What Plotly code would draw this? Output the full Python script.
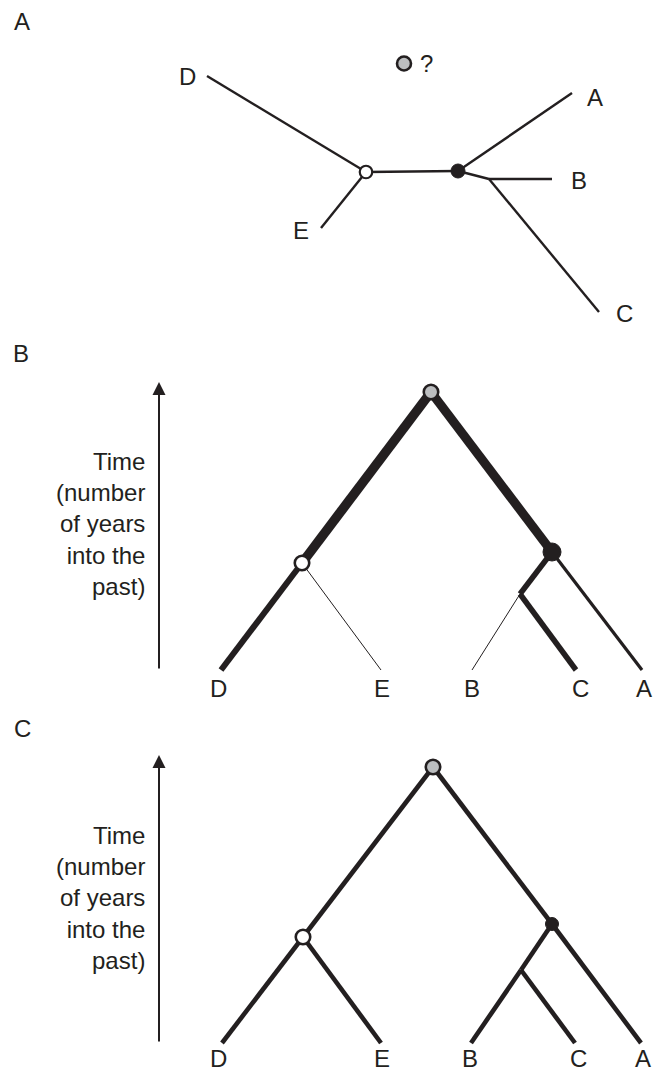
import plotly.graph_objects as go

INK = "#231f20"
GREY = "#bcbec0"
FONT = "Liberation Sans, Arial, Helvetica, sans-serif"

# ---------------- Panel A: unrooted tree ----------------
a_names = ["D", "E", "A", "B", "C", "n_open", "n_black", "n_split"]
a_x = [207, 321, 572, 552, 599, 366, 458, 489]
a_y = [76, 228, 93, 179, 312, 172, 171, 179]
a_edges = [("D", "n_open"), ("E", "n_open"), ("n_open", "n_black"),
           ("n_black", "A"), ("n_black", "n_split"), ("n_split", "B"), ("n_split", "C")]
a_label_names = ["D", "E", "A", "B", "C"]
a_label_x = [187, 301, 595, 579, 624]
a_label_y = [76, 230, 97, 180, 313]
a_unknown_x, a_unknown_y = 404, 63.5   # grey "?" root position

# ---------------- Panel B: rooted tree with branch weights ----------------
b_names = ["root", "n_open", "n_black", "n_split", "D", "E", "B", "C", "A"]
b_x = [431, 302, 552, 520, 221, 381, 472, 576, 642]
b_y = [392, 563, 552, 594, 670, 670, 670, 670, 670]
b_edges = [("root", "n_open"), ("root", "n_black"), ("n_open", "D"), ("n_open", "E"),
           ("n_black", "n_split"), ("n_split", "C"), ("n_split", "B"), ("n_black", "A")]
b_widths = [9.5, 9, 6, 1, 5.5, 5.5, 1, 3.2]

# ---------------- Panel C: rooted tree ----------------
c_names = ["root", "n_open", "n_black", "n_split", "D", "E", "B", "C", "A"]
c_x = [433, 303, 552, 521, 222, 381, 471, 575, 641]
c_y = [767, 937, 924, 970, 1043, 1043, 1043, 1043, 1043]
c_edges = [("root", "n_open"), ("root", "n_black"), ("n_open", "D"), ("n_open", "E"),
           ("n_black", "n_split"), ("n_split", "C"), ("n_split", "B"), ("n_black", "A")]
c_widths = [4.6] * 8

tip_names = ["D", "E", "B", "C", "A"]
b_label_x = [218, 382, 472, 580, 644]
b_label_y = 688
c_label_x = [218, 382, 470, 578, 643]
c_label_y = 1058

time_text = "Time<br>(number<br>of years<br>into the<br>past)"

fig = go.Figure()


def add_edges(names, xs, ys, edges, widths):
    pos = {n: (x, y) for n, x, y in zip(names, xs, ys)}
    for (a, b), w in zip(edges, widths):
        fig.add_trace(go.Scatter(
            x=[pos[a][0], pos[b][0]], y=[pos[a][1], pos[b][1]],
            mode="lines", line=dict(color=INK, width=w),
            hoverinfo="skip", showlegend=False))
    return pos


def add_node(p, fill, size, lw):
    fig.add_trace(go.Scatter(
        x=[p[0]], y=[p[1]], mode="markers",
        marker=dict(size=size, color=fill, line=dict(color=INK, width=lw)),
        hoverinfo="skip", showlegend=False))


# Panel A
pa = add_edges(a_names, a_x, a_y, a_edges, [2.4] * len(a_edges))
add_node(pa["n_open"], "white", 12.5, 2.2)
add_node(pa["n_black"], INK, 14, 1)
add_node((a_unknown_x, a_unknown_y), GREY, 14, 2.6)

# Panel B
pb = add_edges(b_names, b_x, b_y, b_edges, b_widths)
add_node(pb["root"], GREY, 14.5, 2.6)
add_node(pb["n_open"], "white", 14.5, 2.6)
add_node(pb["n_black"], INK, 18, 1)

# Panel C
pc = add_edges(c_names, c_x, c_y, c_edges, c_widths)
add_node(pc["root"], GREY, 14.5, 2.6)
add_node(pc["n_open"], "white", 14.5, 2.6)
add_node(pc["n_black"], INK, 13, 1)

annotations = []


def label(x, y, t, **kw):
    d = dict(x=x, y=y, xref="x", yref="y", text=t, showarrow=False,
             font=dict(family=FONT, size=24, color=INK),
             xanchor="center", yanchor="middle", borderpad=0)
    d.update(kw)
    annotations.append(d)


# panel letters
label(22, 21, "A")
label(21, 353, "B")
label(22, 728, "C")

# panel A labels
for t, x, y in zip(a_label_names, a_label_x, a_label_y):
    label(x, y, t)
label(426, 63, "?")

# panel B / C tip labels
for t, x in zip(tip_names, b_label_x):
    label(x, b_label_y, t)
for t, x in zip(tip_names, c_label_x):
    label(x, c_label_y, t)

# time axis text
label(146, 524, time_text, xanchor="right", align="right")
label(146, 898, time_text, xanchor="right", align="right")

# time arrows
for top, bottom in [(382, 670), (755, 1043)]:
    annotations.append(dict(
        x=159, y=top, ax=159, ay=bottom, xref="x", yref="y", axref="x", ayref="y",
        text="", showarrow=True, arrowhead=2, arrowsize=1.3, arrowwidth=2,
        arrowcolor=INK, standoff=0, startstandoff=0))

fig.update_layout(
    width=657, height=1072, autosize=False,
    margin=dict(l=0, r=0, t=0, b=0),
    paper_bgcolor="white", plot_bgcolor="white",
    xaxis=dict(range=[0, 657], visible=False, fixedrange=True),
    yaxis=dict(range=[1072, 0], visible=False, fixedrange=True),
    annotations=annotations,
    showlegend=False,
)

fig.write_html(
    "out.html",
    config={"displayModeBar": False},
    post_script="document.body.style.margin='0';document.body.style.overflow='hidden';",
)
